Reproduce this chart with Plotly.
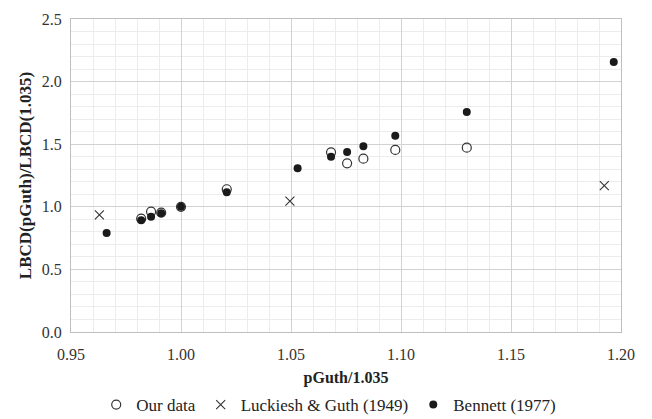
import plotly.graph_objects as go

# Our data (open circles)
our_x = [0.9819, 0.9864, 0.991, 1.000, 1.0208, 1.0682, 1.0755, 1.0829, 1.0974, 1.1299]
our_y = [0.905, 0.961, 0.953, 1.000, 1.140, 1.435, 1.347, 1.384, 1.454, 1.472]

# Luckiesh & Guth (1949) (crosses)
lg_x = [0.9629, 1.0495, 1.1924]
lg_y = [0.936, 1.046, 1.169]

# Bennett (1977) (filled circles)
ben_x = [0.9662, 0.9819, 0.9864, 0.991, 1.000, 1.0208, 1.053, 1.0682, 1.0755, 1.0829, 1.0974, 1.1299, 1.1967]
ben_y = [0.791, 0.892, 0.921, 0.948, 1.001, 1.116, 1.307, 1.400, 1.438, 1.483, 1.568, 1.757, 2.157]

x_ticks = [0.95, 1.00, 1.05, 1.10, 1.15, 1.20]
y_ticks = [0.0, 0.5, 1.0, 1.5, 2.0, 2.5]

font_family = "Liberation Serif"

fig = go.Figure()
fig.add_trace(go.Scatter(
    x=our_x, y=our_y, mode="markers", name="Our data",
    marker=dict(symbol="circle-open", size=9, color="#333333", line=dict(width=1.2, color="#333333")),
))
fig.add_trace(go.Scatter(
    x=lg_x, y=lg_y, mode="markers", name="Luckiesh & Guth (1949)",
    marker=dict(symbol="x-thin-open", size=9, color="#333333", line=dict(width=1.1, color="#333333")),
))
fig.add_trace(go.Scatter(
    x=ben_x, y=ben_y, mode="markers", name="Bennett (1977)",
    marker=dict(symbol="circle", size=8, color="#1a1a1a"),
))

fig.update_layout(
    width=644, height=411,
    margin=dict(l=63, r=31, t=11, b=87),
    paper_bgcolor="white", plot_bgcolor="white",
    font=dict(family=font_family, size=16, color="#333333"),
    showlegend=True,
    legend=dict(orientation="h", xref="container", x=0.498, xanchor="center",
                yref="container", y=0.034, yanchor="middle",
                font=dict(family=font_family, size=17, color="#222222"),
                itemwidth=30, tracegroupgap=0),
)
fig.update_xaxes(
    range=[0.95, 1.20], tickvals=x_ticks, ticktext=[f"{v:.2f}" for v in x_ticks],
    automargin=False,
    showgrid=True, gridcolor="#d2d2d2", gridwidth=1,
    minor=dict(dtick=0.01, showgrid=True, gridcolor="#ececec", gridwidth=1, tick0=0.95),
    showline=True, linecolor="#bfbfbf", linewidth=1, mirror=True,
    zeroline=False, ticks="", ticklabelstandoff=8,
    title=dict(text="<b>pGuth/1.035</b>", font=dict(family=font_family, size=16, color="#222222"), standoff=12),
    tickfont=dict(family=font_family, size=16, color="#333333"),
)
fig.update_yaxes(
    range=[0.0, 2.5], tickvals=y_ticks, ticktext=[f"{v:.1f}" for v in y_ticks],
    automargin=False,
    showgrid=True, gridcolor="#d2d2d2", gridwidth=1,
    minor=dict(dtick=0.1, showgrid=True, gridcolor="#ececec", gridwidth=1, tick0=0),
    showline=True, linecolor="#bfbfbf", linewidth=1, mirror=True,
    zeroline=False, ticks="", ticklabelstandoff=5,
    title=dict(text="<b>LBCD(pGuth)/LBCD(1.035)</b>", font=dict(family=font_family, size=17, color="#222222"), standoff=5),
    tickfont=dict(family=font_family, size=16, color="#333333"),
)

fig.write_html("out.html")
